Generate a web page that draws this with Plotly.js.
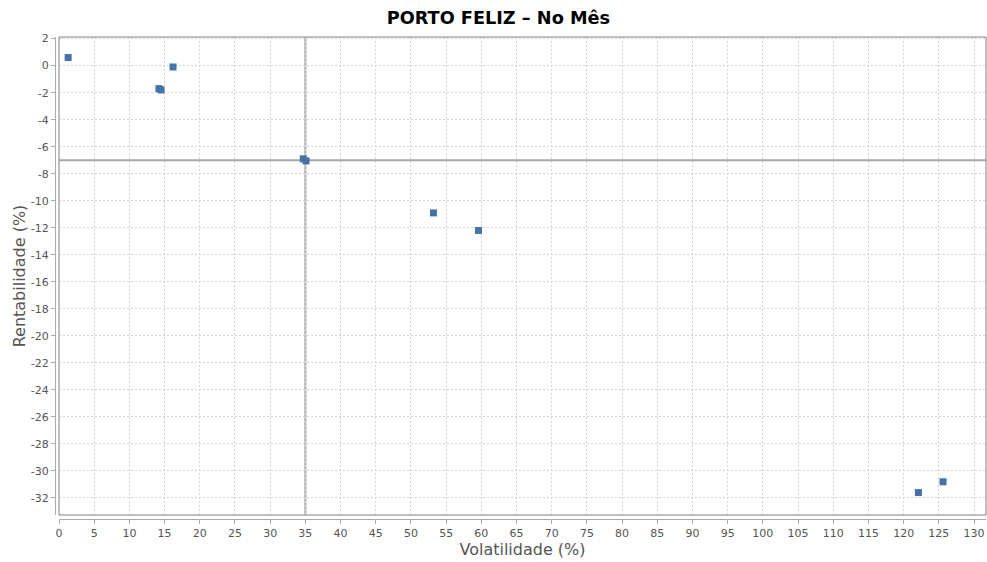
<!DOCTYPE html>
<html>
<head>
<meta charset="utf-8">
<script src="https://cdn.plot.ly/plotly-3.0.1.min.js"></script>
<style>html,body{margin:0;padding:0;background:#fff;}#chart{width:987px;height:562px;}</style>
</head>
<body>
<div id="chart"></div>
<script>
const chartTitle = "PORTO FELIZ – No Mês";
const xTitle = "Volatilidade (%)";
const yTitle = "Rentabilidade (%)";
const volatilidade = [1.3, 16.2, 14.2, 14.5, 34.7, 35.1, 53.2, 59.6, 122.1, 125.6];
const rentabilidade = [0.6, -0.1, -1.7, -1.8, -6.9, -7.05, -10.9, -12.2, -31.6, -30.8];
const refX = 35;
const refY = -7;
const xRange = [0, 131.7];
const yRange = [-33.26, 2.12];
const yTickValues = [2, 0, -2, -4, -6, -8, -10, -12, -14, -16, -18, -20, -22, -24, -26, -28, -30, -32];
const yTickLabels = ["2", "0", "-2", "-4", "-6", "-8", "-10", "-12", "-14", "-16", "-18", "-20", "-22", "-24", "-26", "-28", "-30", "-32"];

const W = 987, H = 562;
const ml = 55, mr = 1, mt = 37, mb = 43;
const pw = W - ml - mr, ph = H - mt - mb;
const off = 4;

const font = "DejaVu Sans, sans-serif";
const trace = {
  x: volatilidade, y: rentabilidade, mode: 'markers', type: 'scatter',
  marker: {symbol: 'square', size: 7, color: '#4572a7', line: {width: 0}},
  hoverinfo: 'x+y', showlegend: false
};
const layout = {
  width: W, height: H,
  margin: {l: ml, r: mr, t: mt, b: mb, pad: 0, autoexpand: false},
  paper_bgcolor: '#ffffff', plot_bgcolor: '#ffffff',
  title: {text: '<b>' + chartTitle + '</b>', font: {family: font, size: 17.7, color: '#000'}, x: 0.505, xanchor: 'center', y: 1 - 18 / H, yanchor: 'middle'},
  xaxis: {
    domain: [off / pw, 1], range: xRange, anchor: 'free', position: 0,
    tick0: 0, dtick: 5, ticks: 'outside', ticklen: 4, tickcolor: '#aaa', tickwidth: 1,
    showline: true, linecolor: '#aaa', linewidth: 1,
    showgrid: true, gridcolor: '#d4d4d4', griddash: '2px,2px', gridwidth: 1,
    zeroline: false, tickfont: {family: font, size: 11, color: '#555'},
    title: {text: xTitle, font: {family: font, size: 16, color: '#555'}, standoff: 4}
  },
  yaxis: {
    domain: [off / ph, 1], range: yRange, anchor: 'free', position: 0,
    tickmode: 'array', tickvals: yTickValues, ticktext: yTickLabels,
    ticks: 'outside', ticklen: 4, tickcolor: '#aaa', tickwidth: 1,
    showline: true, linecolor: '#aaa', linewidth: 1,
    showgrid: true, gridcolor: '#d4d4d4', griddash: '2px,2px', gridwidth: 1,
    zeroline: false, tickfont: {family: font, size: 11, color: '#555'},
    title: {text: yTitle, font: {family: font, size: 16, color: '#555'}, standoff: 0}
  },
  shapes: [
    {type: 'line', xref: 'x', yref: 'y domain', x0: refX, x1: refX, y0: 0, y1: 1, line: {color: '#a8a8a8', width: 2}, layer: 'below'},
    {type: 'line', xref: 'x domain', yref: 'y', x0: 0, x1: 1, y0: refY, y1: refY, line: {color: '#a8a8a8', width: 2}, layer: 'below'},
    {type: 'rect', xref: 'x domain', yref: 'y domain', x0: 0, x1: 1, y0: 0, y1: 1, line: {color: '#808080', width: 1}, layer: 'above'}
  ]
};
Plotly.newPlot('chart', [trace], layout, {displayModeBar: false, staticPlot: true});
</script>
</body>
</html>
